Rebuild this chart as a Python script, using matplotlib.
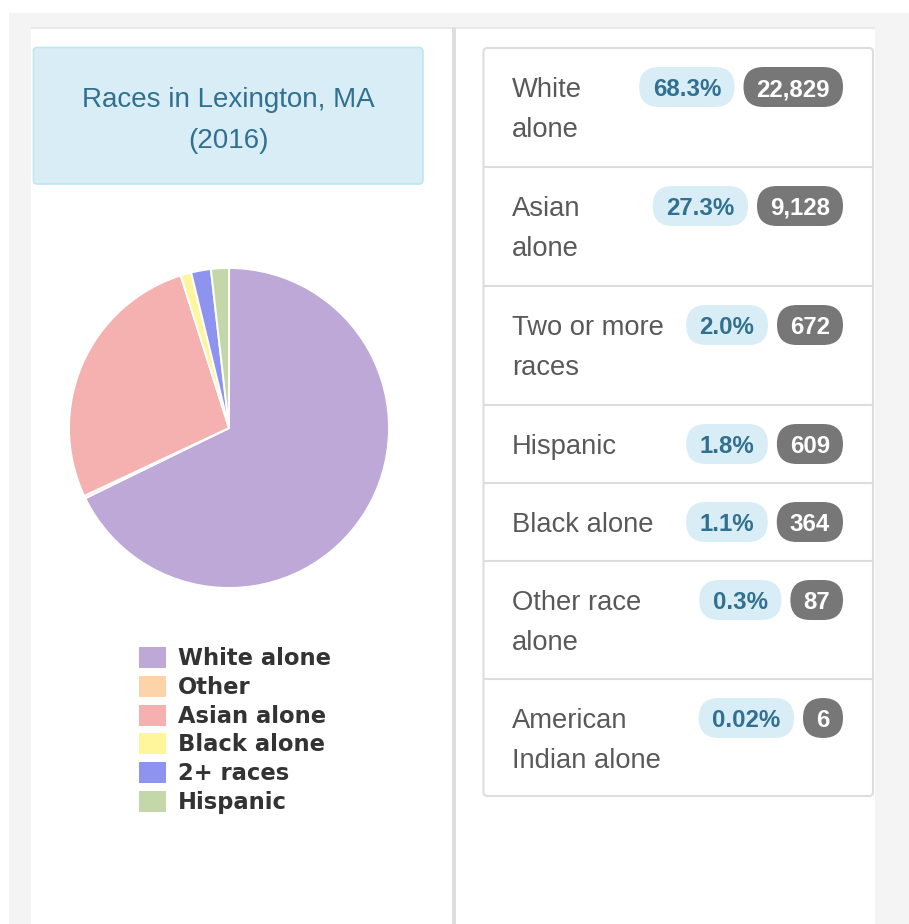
import matplotlib
matplotlib.use("Agg")
import matplotlib.pyplot as plt
from matplotlib.patches import Rectangle, FancyBboxPatch

# ---------------- data ----------------
title_lines = ["Races in Lexington, MA", "(2016)"]

pie_labels = ["White alone", "Other", "Asian alone", "Black alone", "2+ races", "Hispanic"]
pie_values = [22829, 87, 9128, 364, 672, 609]
pie_colors = ["#bda8d8", "#fdd3aa", "#f5b0b0", "#fff59a", "#8f93f0", "#c3d7a9"]

list_names = [["White", "alone"], ["Asian", "alone"], ["Two or more", "races"],
              ["Hispanic"], ["Black alone"], ["Other race", "alone"],
              ["American", "Indian alone"]]
list_pcts = ["68.3%", "27.3%", "2.0%", "1.8%", "1.1%", "0.3%", "0.02%"]
list_counts = [22829, 9128, 672, 609, 364, 87, 6]

# ---------------- figure ----------------
W, H = 909, 924
fig = plt.figure(figsize=(W / 100, H / 100), dpi=100)
fig.patch.set_facecolor("white")
ax = fig.add_axes([0, 0, 1, 1])
ax.set_xlim(0, W)
ax.set_ylim(H, 0)
ax.axis("off")

SANS = ["Liberation Sans", "DejaVu Sans"]

# page background and panels
ax.add_patch(Rectangle((9, 13), W - 9, H - 13, facecolor="#f4f4f4", edgecolor="none"))
ax.add_patch(Rectangle((31, 27), 875 - 31, H - 27, facecolor="#e8e8e8", edgecolor="none"))
ax.add_patch(Rectangle((31, 29), 452 - 31, H - 29, facecolor="white", edgecolor="none"))
ax.add_patch(Rectangle((452, 27), 3.5, H - 27, facecolor="#dedede", edgecolor="none"))
ax.add_patch(Rectangle((455.5, 29), 875 - 455.5, H - 29, facecolor="white", edgecolor="none"))

# title box
ax.add_patch(FancyBboxPatch((33.5, 47.5), 423 - 33.5, 184 - 47.5,
                            boxstyle="round,pad=0,rounding_size=4",
                            facecolor="#d9edf7", edgecolor="#bce8f1", linewidth=1.2))
ax.text(228, 107, title_lines[0], ha="center", va="baseline", fontsize=20,
        color="#31708f", family=SANS)
ax.text(228, 148, title_lines[1], ha="center", va="baseline", fontsize=20,
        color="#31708f", family=SANS)

# pie
cx, cy, r = 229, 428, 160
pax = fig.add_axes([(cx - r) / W, 1 - (cy + r) / H, 2 * r / W, 2 * r / H])
pax.pie(pie_values, colors=pie_colors, startangle=90, counterclock=False,
        wedgeprops=dict(edgecolor="white", linewidth=1.4))
pax.set_xlim(-1.0, 1.0)
pax.set_ylim(-1.0, 1.0)
pax.set_aspect("equal")
pax.axis("off")

# legend
ly0, ldy = 657, 28.8
for i, (lab, col) in enumerate(zip(pie_labels, pie_colors)):
    y = ly0 + i * ldy
    ax.add_patch(Rectangle((139, y - 10), 27, 21, facecolor=col, edgecolor="none"))
    ax.text(178, y + 8, lab, ha="left", va="baseline", fontsize=16.3,
            fontweight="bold", color="#333333", family=["DejaVu Sans"])

# list group
row_h = [119, 119, 119, 78, 78, 118, 117]
top = 48
bottom = top + sum(row_h)
ax.add_patch(FancyBboxPatch((483.5, top), 873 - 483.5, bottom - top,
                            boxstyle="round,pad=0,rounding_size=4",
                            facecolor="white", edgecolor="#dddddd", linewidth=1.5))
fig.canvas.draw()
renderer = fig.canvas.get_renderer()

y = top
for i, (name, pct, cnt) in enumerate(zip(list_names, list_pcts, list_counts)):
    if i > 0:
        ax.plot([483.5, 873], [y, y], color="#dddddd", linewidth=1.5)
    for k, line in enumerate(name):
        ax.text(512, y + 49 + 40 * k, line, ha="left", va="baseline", fontsize=19.7,
                color="#595959", family=SANS)
    # count badge (right aligned)
    bc = y + 39
    bh = 40
    right = 843
    tcnt = ax.text(0, bc + 9, f"{cnt:,}", ha="right", va="baseline", fontsize=17.3,
                   fontweight="bold", color="white", family=SANS, zorder=5)
    tw = tcnt.get_window_extent(renderer).width
    bw = max(tw + 26, bh)
    tcnt.set_x(right - (bw - tw) / 2)
    ax.add_patch(FancyBboxPatch((right - bw, bc - bh / 2), bw, bh,
                                boxstyle=f"round,pad=0,rounding_size={bh/2}",
                                facecolor="#777777", edgecolor="none", zorder=4))
    # percent badge
    right2 = right - bw - 9
    tp = ax.text(0, bc + 9, pct, ha="right", va="baseline", fontsize=17.3,
                 fontweight="bold", color="#31708f", family=SANS, zorder=5)
    tw = tp.get_window_extent(renderer).width
    bw2 = tw + 27
    tp.set_x(right2 - 13.5)
    ax.add_patch(FancyBboxPatch((right2 - bw2, bc - bh / 2), bw2, bh,
                                boxstyle=f"round,pad=0,rounding_size={bh/2}",
                                facecolor="#d9edf7", edgecolor="none", zorder=4))
    y += row_h[i]

fig.savefig("out.png", dpi=100, facecolor=fig.get_facecolor())
